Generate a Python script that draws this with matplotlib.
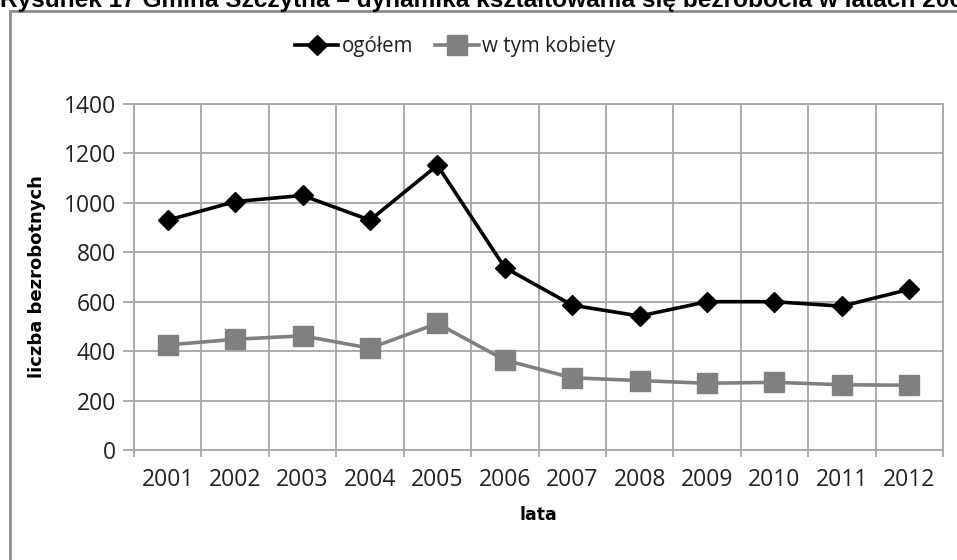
import matplotlib

matplotlib.use("Agg")
import matplotlib.pyplot as plt
from matplotlib.patches import Rectangle
import numpy as np

years = ["2001", "2002", "2003", "2004", "2005", "2006",
         "2007", "2008", "2009", "2010", "2011", "2012"]
ogolem = [930, 1005, 1030, 930, 1152, 738, 586, 542, 600, 600, 582, 650]
kobiety = [425, 448, 462, 412, 512, 364, 292, 281, 270, 274, 264, 262]
y_ticks = [0, 200, 400, 600, 800, 1000, 1200, 1400]

title = "Rysunek 17 Gmina Szczytna \u2013 dynamika kształtowania się bezrobocia w latach 2001-2012"

W, H = 957, 560
fig = plt.figure(figsize=(W / 100, H / 100), dpi=100)
ax = fig.add_axes([134 / W, 1 - 450 / H, (943 - 134) / W, (450 - 104) / H])

grid_c = "#a6a6a6"
x = np.arange(len(years))
ax.plot(x, ogolem, color="black", lw=2.6, marker="D", ms=10.5, label="ogółem", zorder=4)
ax.plot(x, kobiety, color="#808080", lw=2.6, marker="s", ms=14.5, label="w tym kobiety", zorder=3)

ax.set_xlim(-0.5, len(years) - 0.5)
ax.set_ylim(0, 1400)
ax.set_yticks(y_ticks)
ax.set_xticks(np.arange(-0.5, len(years)), labels=[])
ax.set_xticks(x, labels=years, minor=True)
ax.grid(True, which="major", color=grid_c, lw=1.3, zorder=0)
ax.set_axisbelow(True)

ax.tick_params(axis="x", which="major", length=5, color=grid_c, width=1.3)
ax.tick_params(axis="x", which="minor", length=0, pad=13)
ax.tick_params(axis="y", length=8, color=grid_c, width=1.3, pad=5)
for lab in ax.get_xticklabels(minor=True) + ax.get_yticklabels():
    lab.set_fontfamily("Open Sans")
    lab.set_fontsize(16.5)
    lab.set_color("#222222")
for s in ax.spines.values():
    s.set_color(grid_c)
    s.set_linewidth(1.3)

fig.text(37 / W, 1 - 277 / H, "liczba bezrobotnych", rotation=90, ha="center", va="center",
         fontsize=13, fontweight="bold", family="DejaVu Sans")
fig.text(538 / W, 1 - 515 / H, "lata", ha="center", va="center",
         fontsize=12.5, fontweight="bold", family="DejaVu Sans")

leg = ax.legend(loc="center", bbox_to_anchor=(455 / W, 1 - 47 / H), bbox_transform=fig.transFigure,
                ncol=2, frameon=False, prop={"family": "Open Sans", "size": 14.8},
                handlelength=2.1, handletextpad=0.15, columnspacing=1.1, markerscale=0.95)
for t in leg.get_texts():
    t.set_color("#222222")

# chart frame (cut at right and bottom) and clipped caption above it
fig.add_artist(Rectangle((10 / W, -0.1), 1.2, 1.1 - 11 / H, transform=fig.transFigure,
                         fill=False, edgecolor="#8c8c8c", lw=2))
fig.text(0.0, 1 - 7 / H, title, ha="left", va="baseline", fontsize=17.6,
         fontweight="bold", family="Liberation Sans")

fig.savefig("out.png", dpi=100)
